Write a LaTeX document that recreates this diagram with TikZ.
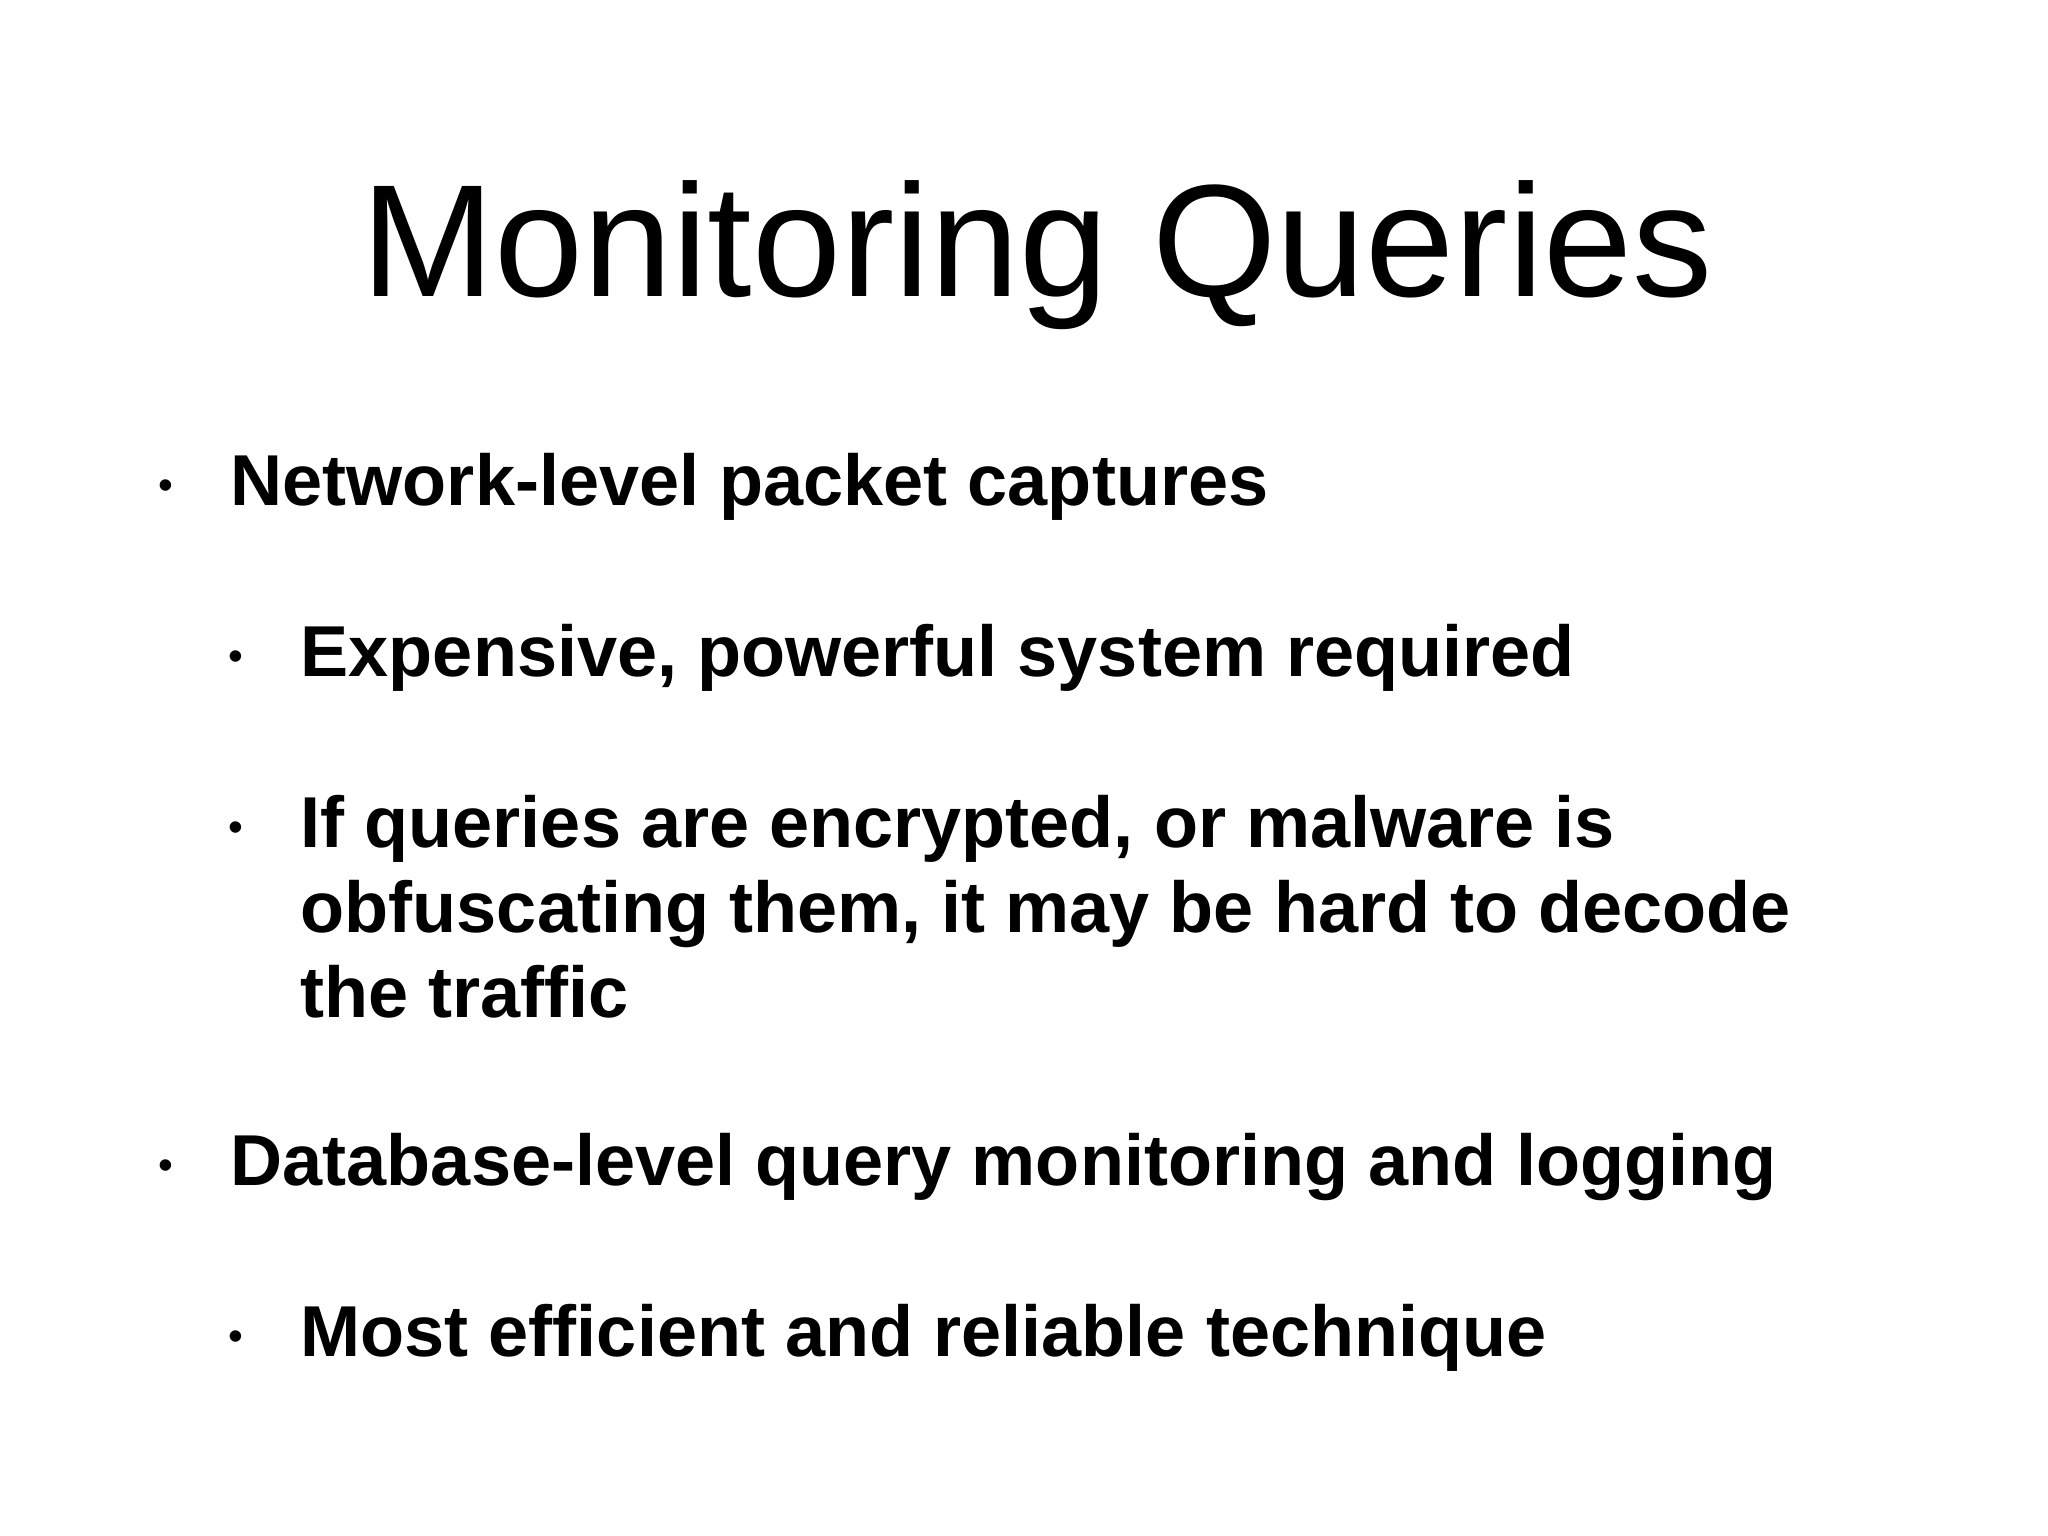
\documentclass[tikz,border=0pt]{standalone}
\usepackage{fontspec}
\setmainfont{Liberation Sans}
\begin{document}
\begin{tikzpicture}[x=0.01cm,y=0.01cm,
  txt/.style={anchor=base west,inner sep=0,font=\fontsize{20.5pt}{24pt}\selectfont\bfseries},
  bul/.style={anchor=base,inner sep=0,font=\fontsize{12pt}{14pt}\selectfont}]
\useasboundingbox (0,0) rectangle (2048,1536);
\node[anchor=base,inner sep=0,font=\fontsize{45.5pt}{54pt}\selectfont] (title) at (1037,1536-297) {Monitoring Queries};
\node[bul] (b1) at (166,1536-500) {•};
\node[txt] (t1) at (230,1536-506) {Network-level packet captures};
\node[bul] (b2) at (236,1536-671) {•};
\node[txt] (t2) at (300,1536-677) {Expensive, powerful system required};
\node[bul] (b3) at (236,1536-842) {•};
\node[txt] (t3) at (300,1536-848) {If queries are encrypted, or malware is};
\node[txt] (t3b) at (300,1536-933) {obfuscating them, it may be hard to decode};
\node[txt] (t3c) at (300,1536-1018) {the traffic};
\node[bul] (b4) at (166,1536-1180) {•};
\node[txt] (t4) at (230,1536-1186) {Database-level query monitoring and logging};
\node[bul] (b5) at (236,1536-1351) {•};
\node[txt] (t5) at (300,1536-1357) {Most efficient and reliable technique};
\end{tikzpicture}
\end{document}
